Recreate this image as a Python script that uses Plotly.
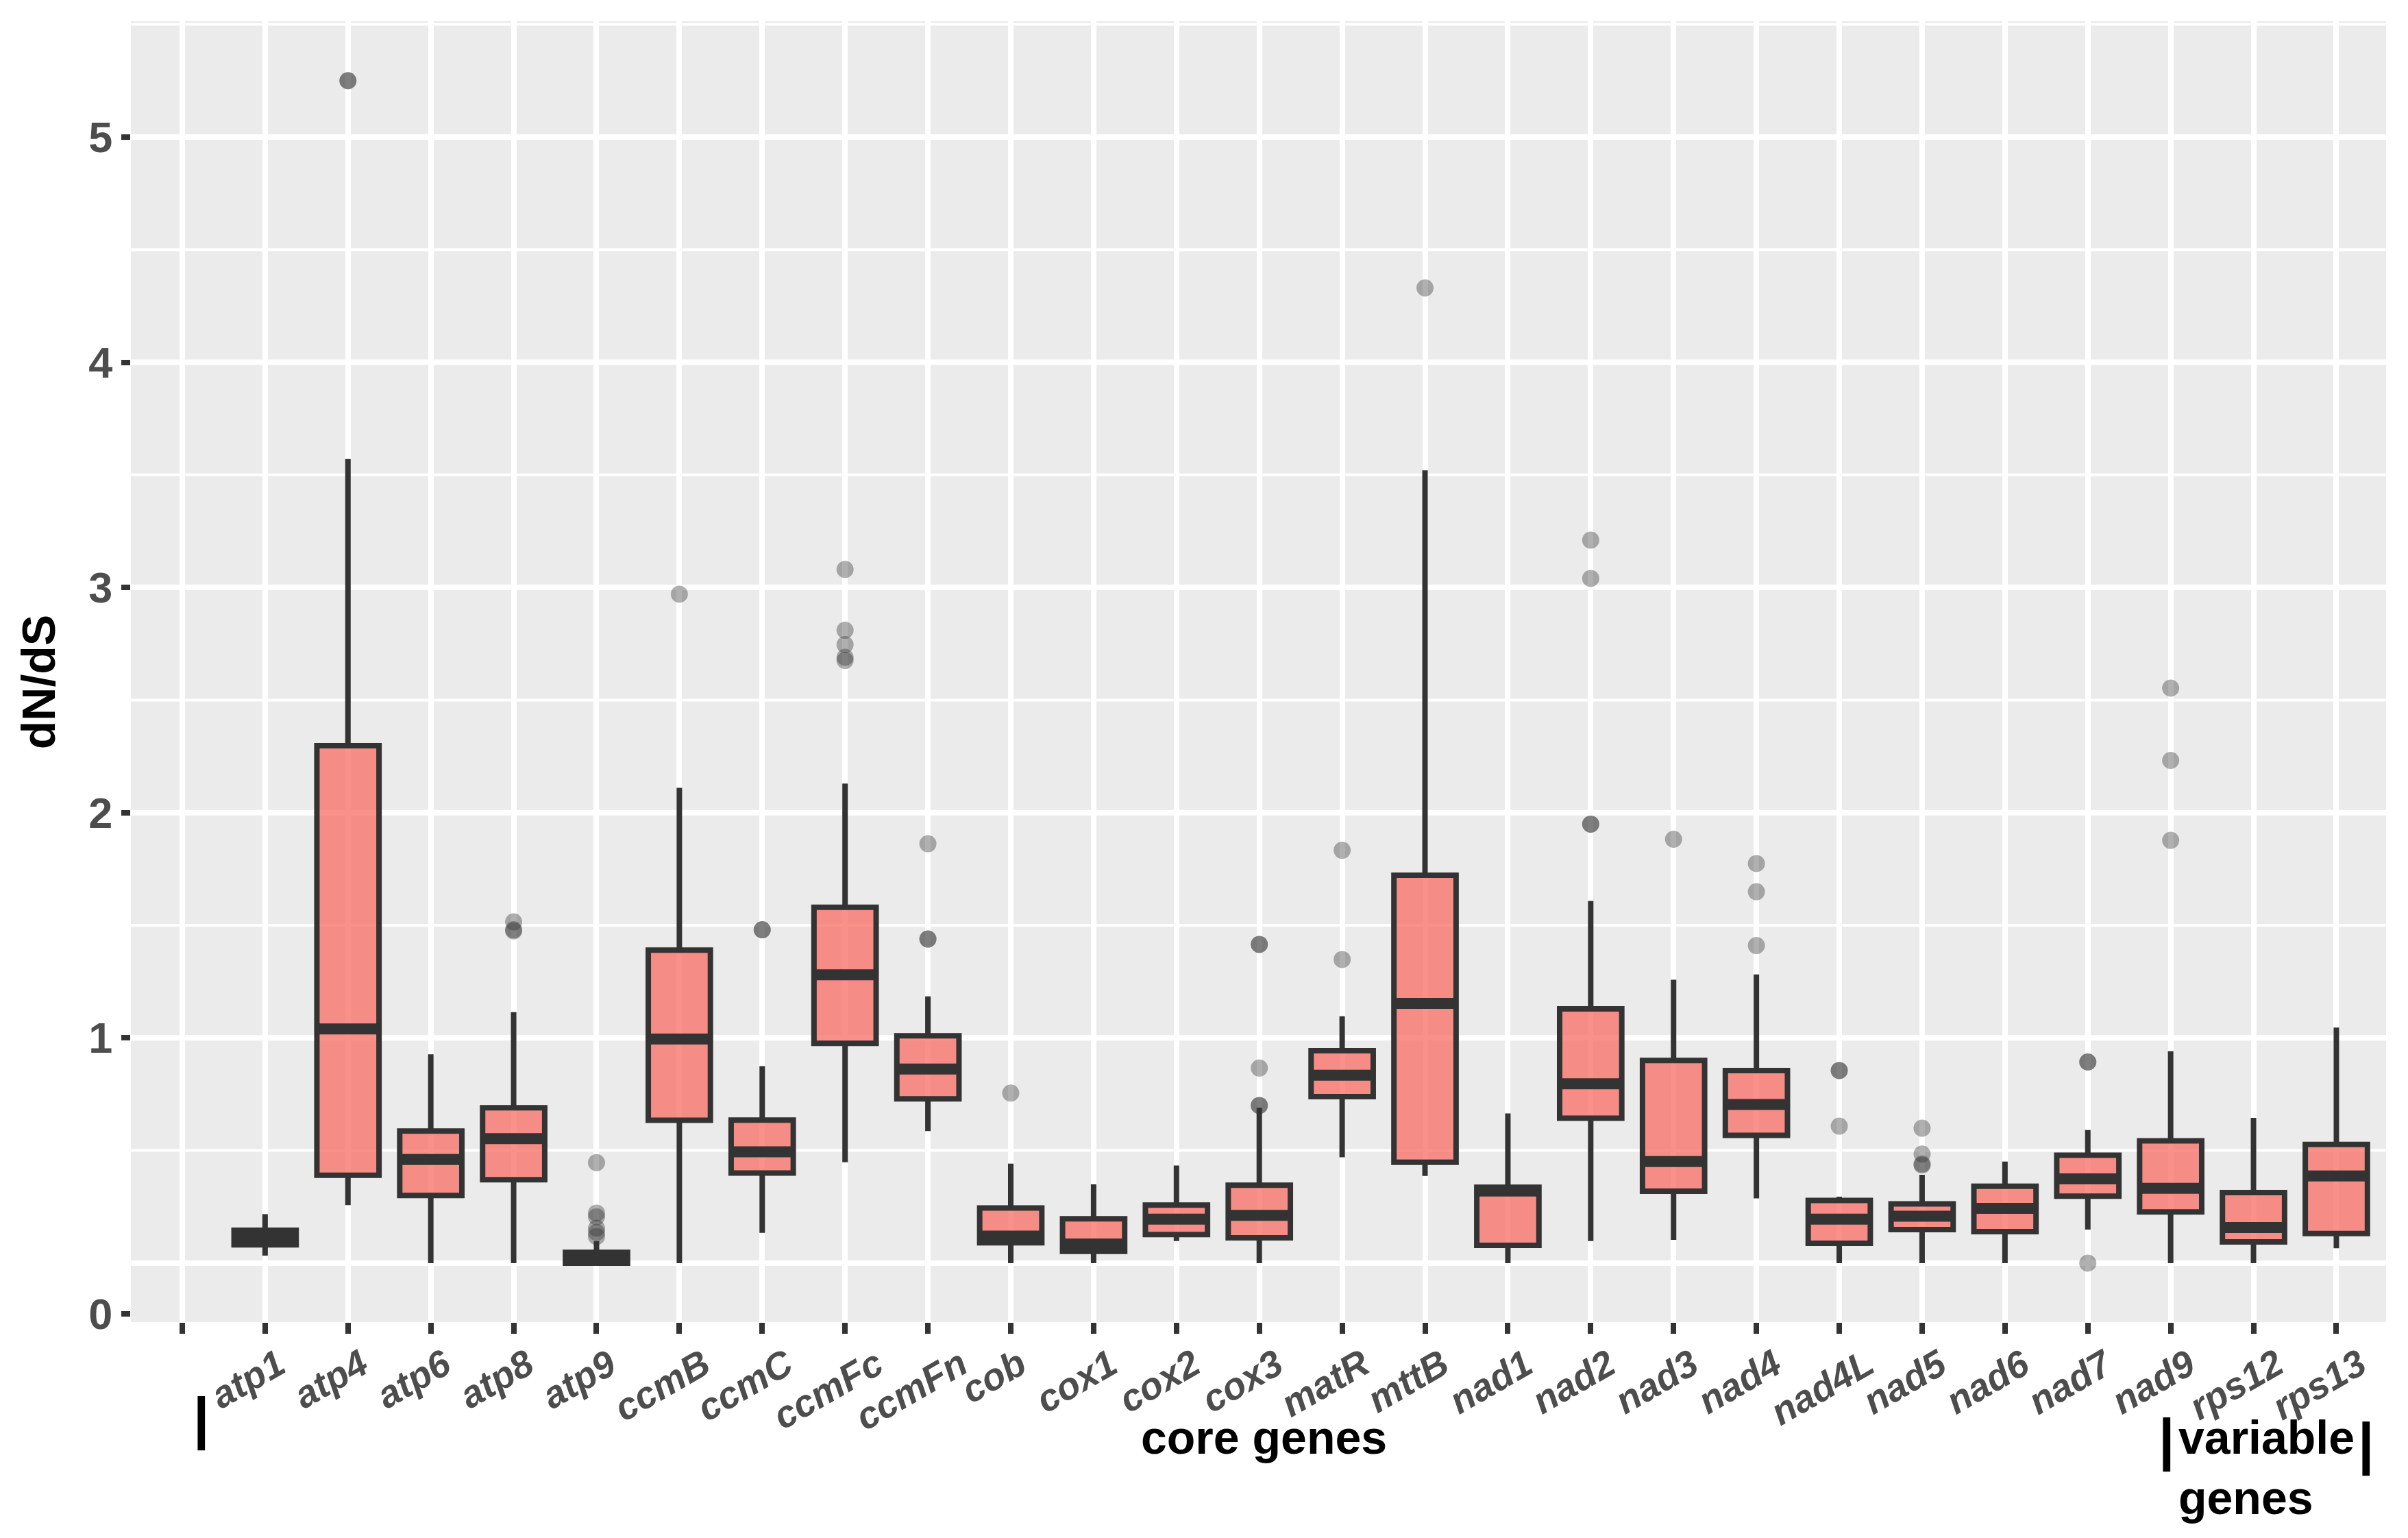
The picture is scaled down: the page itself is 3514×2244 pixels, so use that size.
import plotly.graph_objects as go

# ---------------- data ----------------
genes = ["atp1", "atp4", "atp6", "atp8", "atp9", "ccmB", "ccmC", "ccmFc", "ccmFn",
         "cob", "cox1", "cox2", "cox3", "matR", "mttB", "nad1", "nad2", "nad3",
         "nad4", "nad4L", "nad5", "nad6", "nad7", "nad9", "rps12", "rps13"]

q1 = [0.081, 0.39, 0.300, 0.37, 0.0, 0.634, 0.40, 0.976, 0.729, 0.09, 0.052, 0.127, 0.112,
      0.739, 0.448, 0.079, 0.643, 0.319, 0.567, 0.088, 0.149, 0.14, 0.297, 0.227, 0.094, 0.131]
median = [0.114, 1.04, 0.46, 0.553, 0.02, 0.995, 0.494, 1.28, 0.862, 0.12, 0.085, 0.195, 0.212,
          0.834, 1.153, 0.32, 0.796, 0.451, 0.704, 0.195, 0.208, 0.243, 0.374, 0.332, 0.158, 0.387]
q3 = [0.146, 2.297, 0.586, 0.69, 0.048, 1.39, 0.635, 1.58, 1.009, 0.245, 0.197, 0.258, 0.346,
      0.943, 1.722, 0.337, 1.129, 0.90, 0.855, 0.278, 0.263, 0.341, 0.479, 0.543, 0.313, 0.527]
whisker_low = [0.033, 0.258, 0.0, 0.0, 0.0, 0.0, 0.134, 0.448, 0.586, 0.0, 0.0, 0.098, 0.0,
               0.47, 0.387, 0.0, 0.098, 0.103, 0.287, 0.0, 0.0, 0.0, 0.149, 0.0, 0.0, 0.066]
whisker_high = [0.217, 3.57, 0.927, 1.114, 0.098, 2.11, 0.875, 2.129, 1.184, 0.442, 0.35, 0.433, 0.69,
                1.096, 3.52, 0.665, 1.608, 1.258, 1.282, 0.295, 0.392, 0.451, 0.591, 0.941, 0.645, 1.046]

outlier_gene = ["atp4", "atp4",
                "atp8", "atp8", "atp8",
                "atp9", "atp9", "atp9", "atp9", "atp9", "atp9",
                "ccmB",
                "ccmC", "ccmC",
                "ccmFc", "ccmFc", "ccmFc", "ccmFc", "ccmFc",
                "ccmFn", "ccmFn", "ccmFn",
                "cob",
                "cox3", "cox3", "cox3", "cox3", "cox3",
                "matR", "matR",
                "mttB",
                "nad2", "nad2", "nad2", "nad2",
                "nad3",
                "nad4", "nad4", "nad4",
                "nad4L", "nad4L", "nad4L",
                "nad5", "nad5", "nad5", "nad5",
                "nad7", "nad7", "nad7",
                "nad9", "nad9", "nad9"]
outlier_value = [5.25, 5.25,
                 1.515, 1.48, 1.475,
                 0.446, 0.222, 0.205, 0.155, 0.136, 0.118,
                 2.97,
                 1.48, 1.48,
                 3.08, 2.81, 2.746, 2.69, 2.676,
                 1.862, 1.439, 1.439,
                 0.755,
                 1.415, 1.415, 0.866, 0.70, 0.70,
                 1.833, 1.348,
                 4.33,
                 3.21, 3.04, 1.949, 1.949,
                 1.882,
                 1.774, 1.649, 1.41,
                 0.855, 0.855, 0.608,
                 0.599, 0.484, 0.44, 0.435,
                 0.893, 0.893, 0.0,
                 2.553, 2.232, 1.877]

# axis categories: an empty slot precedes the genes
categories = [""] + genes
y_tick_values = [-0.225, 1, 2, 3, 4, 5]
y_tick_text = ["0", "1", "2", "3", "4", "5"]

# ---------------- figure ----------------
pos = {c: i for i, c in enumerate(categories)}
gx = [pos[g] for g in genes]
BOX_W = 0.75
DARK = "#333333"
FONT = "Liberation Sans, Arial, Helvetica, sans-serif"

fig = go.Figure()

fig.add_trace(go.Box(
    x=gx, q1=q1, median=median, q3=q3,
    lowerfence=whisker_low, upperfence=whisker_high,
    width=BOX_W, whiskerwidth=0,
    fillcolor="rgba(248,118,109,0.8)",
    line=dict(color=DARK, width=8),
    boxpoints=False, showlegend=False, hoverinfo="skip",
))

# thick median bars (ggplot style)
mx, my = [], []
for xi, m in zip(gx, median):
    mx += [xi - BOX_W / 2, xi + BOX_W / 2, None]
    my += [m, m, None]
fig.add_trace(go.Scatter(x=mx, y=my, mode="lines",
                         line=dict(color=DARK, width=16),
                         showlegend=False, hoverinfo="skip"))

fig.add_trace(go.Scatter(
    x=[pos[g] for g in outlier_gene], y=outlier_value, mode="markers",
    marker=dict(size=25, color="rgba(51,51,51,0.39)", line=dict(width=0)),
    showlegend=False, hoverinfo="skip"))

# horizontal grid lines (major at integers, minor at halves)
shapes = []
for v in range(0, 6):
    shapes.append(dict(type="line", xref="paper", x0=0, x1=1, yref="y", y0=v, y1=v,
                       line=dict(color="white", width=8), layer="below"))
for v in [0.5, 1.5, 2.5, 3.5, 4.5, 5.5]:
    shapes.append(dict(type="line", xref="paper", x0=0, x1=1, yref="y", y0=v, y1=v,
                       line=dict(color="white", width=4), layer="below"))

title_font = dict(family=FONT, size=68, color="black", weight="bold")
bar_font = dict(family=FONT, size=84, color="black", weight="bold")
tick_font = dict(family=FONT, size=55, color="#4D4D4D", weight="bold", style="italic")

annotations = [
    dict(text="dN/dS", xref="paper", yref="paper", x=-0.041, y=0.492,
         textangle=-90, showarrow=False, font=title_font, xanchor="center", yanchor="middle"),
    dict(text="|", xref="paper", yref="paper", x=0.0313, y=-0.0738,
         showarrow=False, font=bar_font, xanchor="center", yanchor="middle"),
    dict(text="core genes", xref="paper", yref="paper", x=0.5023, y=-0.0885,
         showarrow=False, font=title_font, xanchor="center", yanchor="middle"),
    dict(text="|", xref="paper", yref="paper", x=0.9028, y=-0.0906,
         showarrow=False, font=bar_font, xanchor="center", yanchor="middle"),
    dict(text="variable", xref="paper", yref="paper", x=0.9471, y=-0.0885,
         showarrow=False, font=title_font, xanchor="center", yanchor="middle"),
    dict(text="|", xref="paper", yref="paper", x=0.9912, y=-0.0933,
         showarrow=False, font=bar_font, xanchor="center", yanchor="middle"),
    dict(text="genes", xref="paper", yref="paper", x=0.938, y=-0.135,
         showarrow=False, font=title_font, xanchor="center", yanchor="middle"),
]
# rotated category labels under the ticks
for xi, g in zip(gx, genes):
    annotations.append(dict(text=g, xref="x", yref="paper", x=xi, y=0,
                            xanchor="center", yanchor="top", xshift=-25, yshift=-25,
                            textangle=-30, showarrow=False, font=tick_font))

fig.update_layout(
    width=3514, height=2244,
    margin=dict(l=183, r=40, t=23, b=323, autoexpand=False),
    paper_bgcolor="white", plot_bgcolor="#EBEBEB",
    shapes=shapes, annotations=annotations,
    xaxis=dict(
        range=[-0.62, 26.6], tickmode="array",
        tickvals=list(range(len(categories))), ticktext=categories,
        showticklabels=False, automargin=False,
        showgrid=True, gridcolor="white", gridwidth=8, zeroline=False,
        ticks="outside", ticklen=16, tickwidth=8, tickcolor=DARK,
        showline=False,
    ),
    yaxis=dict(
        range=[-0.262, 5.514], tickmode="array",
        tickvals=y_tick_values, ticktext=y_tick_text, automargin=False,
        showgrid=False, zeroline=False,
        ticks="outside", ticklen=13, tickwidth=8, tickcolor=DARK,
        tickfont=dict(family=FONT, size=63, color="#4D4D4D", weight="bold"),
        showline=False,
    ),
)

fig.write_html("out.html")
